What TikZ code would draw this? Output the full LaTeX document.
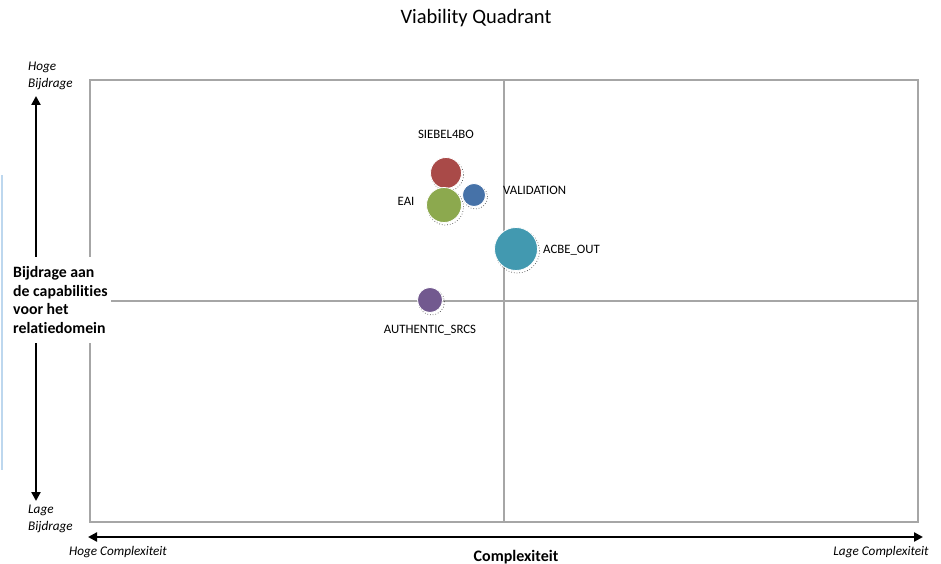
\documentclass[tikz,border=0pt]{standalone}
\usepackage{fontspec}
\setmainfont{Carlito}[Ligatures=NoCommon]
\usetikzlibrary{arrows.meta}
\definecolor{gridgray}{HTML}{A6A6A6}
\definecolor{cred}{HTML}{A94A48}
\definecolor{cblue}{HTML}{4672A8}
\definecolor{cgreen}{HTML}{8CA94E}
\definecolor{cteal}{HTML}{4299B0}
\definecolor{cpurple}{HTML}{72598F}
\definecolor{lblue}{HTML}{BDD7EE}
\tikzset{
  grid/.style={draw=gridgray, line width=1.3pt},
  axisarrow/.style={line width=2.6pt, -{Triangle[length=9pt,width=9pt]}},
  axislabel/.style={font=\fontsize{13.2}{16.5}\selectfont\itshape, align=left, inner sep=0pt},
  bubble/.style={circle, draw=white, line width=0.8pt, inner sep=0pt},
  shadow/.style={circle, draw=black!70, dotted, line width=0.7pt, inner sep=0pt},
  blabel/.style={font=\fontsize{12.8}{15}\selectfont, inner sep=0pt},
}
\begin{document}
\begin{tikzpicture}[x=1pt,y=-1pt]
\useasboundingbox (0,0) rectangle (941,564);
% title
\node[font=\fontsize{20.5}{24}\selectfont] (title) at (476,18) {Viability Quadrant};
% light blue line
\draw[lblue, line width=2pt] (2,175) -- (2,470);
% grid
\draw[grid] (90,80) rectangle (918,522);
\draw[grid] (504,80) -- (504,522);
\draw[grid] (90,301) -- (918,301);
% axes
\coordinate (vt) at (36,96);
\coordinate (vb) at (36,501);
\coordinate (hl) at (88,537);
\coordinate (hr) at (923,537);
\draw[axisarrow] (36,300) -- (vt);
\draw[axisarrow] (36,300) -- (vb);
\draw[axisarrow] (500,537) -- (hl);
\draw[axisarrow] (500,537) -- (hr);
% y axis label
\fill[white] (10,257) rectangle (111,343);
\node[font=\fontsize{15.8}{18.7}\selectfont\bfseries, align=left, inner sep=0pt, anchor=west] (ylab) at (13,300) {Bijdrage aan\\de capabilities\\voor het\\relatiedomein};
\node[axislabel, anchor=west] (hoge) at (28,76) {Hoge\\Bijdrage};
\node[axislabel, anchor=west] (lage) at (28,519) {Lage\\Bijdrage};
\node[axislabel] (hogec) at (118,552) {Hoge Complexiteit};
\node[axislabel] (lagec) at (881,552) {Lage Complexiteit};
\node[font=\fontsize{16}{18}\selectfont\bfseries] (xlab) at (516,557) {Complexiteit};
% bubbles
\node[shadow, minimum size=32pt] at (447.5,175) {};
\node[bubble, fill=cred, minimum size=31pt] (siebel) at (446,173) {};
\node[shadow, minimum size=24pt] at (475.5,197) {};
\node[bubble, fill=cblue, minimum size=23pt] (valid) at (474,195) {};
\node[shadow, minimum size=36pt] at (445.5,207) {};
\node[bubble, fill=cgreen, minimum size=35pt] (eai) at (444,205) {};
\node[shadow, minimum size=44pt] at (517.5,251) {};
\node[bubble, fill=cteal, minimum size=43pt] (acbe) at (516,249) {};
\node[shadow, minimum size=26pt] at (431.5,302) {};
\node[bubble, fill=cpurple, minimum size=25pt] (auth) at (430,300) {};
% labels
\node[blabel] (lsiebel) at (446,134) {SIEBEL4BO};
\node[blabel, anchor=west] (lvalid) at (503,190) {VALIDATION};
\node[blabel] (leai) at (406,201) {EAI};
\node[blabel, anchor=west] (lacbe) at (543,250) {ACBE\_OUT};
\node[blabel] (lauth) at (430,330) {AUTHENTIC\_SRCS};
\end{tikzpicture}
\end{document}
